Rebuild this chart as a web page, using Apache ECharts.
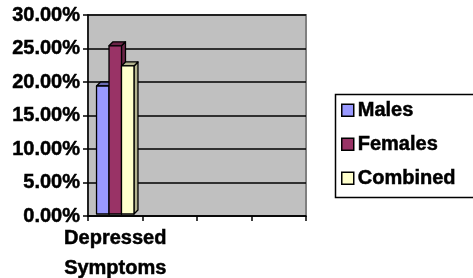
<!DOCTYPE html>
<html><head><meta charset="utf-8">
<script src="https://cdn.jsdelivr.net/npm/echarts@6/dist/echarts.min.js"></script>
<style>html,body{margin:0;padding:0;background:#fff}#c{width:473px;height:278px}</style>
</head><body><div id="c"></div>
<script>
const categories = ['Depressed\nSymptoms', '', '', ''];
const seriesNames = ['Males', 'Females', 'Combined'];
const males = [19.4, null, null, null];
const females = [25.4, null, null, null];
const combined = [22.4, null, null, null];
const yTicks = [0, 5, 10, 15, 20, 25, 30];

const faceColors = ['#9999ff', '#993366', '#ffffcc'];
const sideColors = ['#6b6bb3', '#6b2447', '#b3b38f'];
const FONT = '"Liberation Sans", Arial, sans-serif';
const heavy = { fontFamily: FONT, fontWeight: 'bold', fontSize: 20, color: '#000', textBorderColor: '#000', textBorderWidth: 0.5 };

function makeRender(idx) {
  return function (params, api) {
    const v = api.value(1);
    if (v == null || isNaN(v)) return;
    const cat = api.value(0);
    const base = api.coord([cat, 0]);
    const top = api.coord([cat, v]);
    const band = api.size([1, 0])[0];
    const w = band * 0.229;
    const x0 = base[0] + (idx - 1.5) * w;
    const x1 = x0 + w;
    const y0 = top[1], y1 = base[1] - 2;
    const d = 4;
    const ls = { stroke: '#000', lineWidth: 1.3, lineJoin: 'round' };
    return {
      type: 'group',
      children: [
        { type: 'polygon', shape: { points: [[x1, y0], [x1 + d, y0 - d], [x1 + d, y1 - d], [x1, y1]] },
          style: Object.assign({ fill: sideColors[idx] }, ls) },
        { type: 'polygon', shape: { points: [[x0, y0], [x0 + d, y0 - d], [x1 + d, y0 - d], [x1, y0]] },
          style: Object.assign({ fill: sideColors[idx] }, ls) },
        { type: 'rect', shape: { x: x0, y: y0, width: w, height: y1 - y0 },
          style: Object.assign({ fill: faceColors[idx] }, ls) }
      ]
    };
  };
}

const dataSets = [males, females, combined];
const chart = echarts.init(document.getElementById('c'), null, { renderer: 'canvas' });
chart.setOption({
  animation: false,
  textStyle: { fontFamily: FONT },
  grid: { left: 88, right: 167, top: 15, bottom: 62, outerBoundsMode: 'none', containLabel: false,
    show: true, backgroundColor: '#c0c0c0', borderColor: '#808080', borderWidth: 2 },
  graphic: [{ type: 'rect', left: 333, top: 92, shape: { width: 150, height: 103 },
    style: { fill: 'none', stroke: '#000', lineWidth: 1.5 }, silent: true }],
  legend: {
    orient: 'vertical', left: 333, top: 92,
    padding: [8, 10, 8, 8], itemGap: 13.5,
    itemWidth: 12, itemHeight: 12,
    icon: 'rect',
    itemStyle: { borderColor: '#000', borderWidth: 1.5 },
    textStyle: Object.assign({ padding: [0, 0, 0, -1] }, heavy),
    data: seriesNames
  },
  xAxis: {
    type: 'category', data: categories,
    axisLine: { lineStyle: { color: '#000', width: 1.5 } },
    axisTick: { show: true, length: 5, lineStyle: { color: '#000', width: 1.5 } },
    axisLabel: Object.assign({ interval: 0, margin: 7, lineHeight: 30 }, heavy),
    splitLine: { show: false }
  },
  yAxis: {
    type: 'value', min: yTicks[0], max: yTicks[yTicks.length - 1], interval: 5,
    axisLine: { show: true, lineStyle: { color: '#000', width: 1.5 } },
    axisTick: { show: true, length: 5, lineStyle: { color: '#000', width: 1.5 } },
    axisLabel: Object.assign({ margin: 8, formatter: v => v.toFixed(2) + '%' }, heavy),
    splitLine: { show: true, lineStyle: { color: '#000', width: 1.5 } }
  },
  series: seriesNames.map((n, i) => ({
    name: n, type: 'custom',
    itemStyle: { color: faceColors[i] },
    encode: { x: 0, y: 1 },
    data: dataSets[i].map((v, k) => [k, v]),
    renderItem: makeRender(i)
  }))
});
</script></body></html>
